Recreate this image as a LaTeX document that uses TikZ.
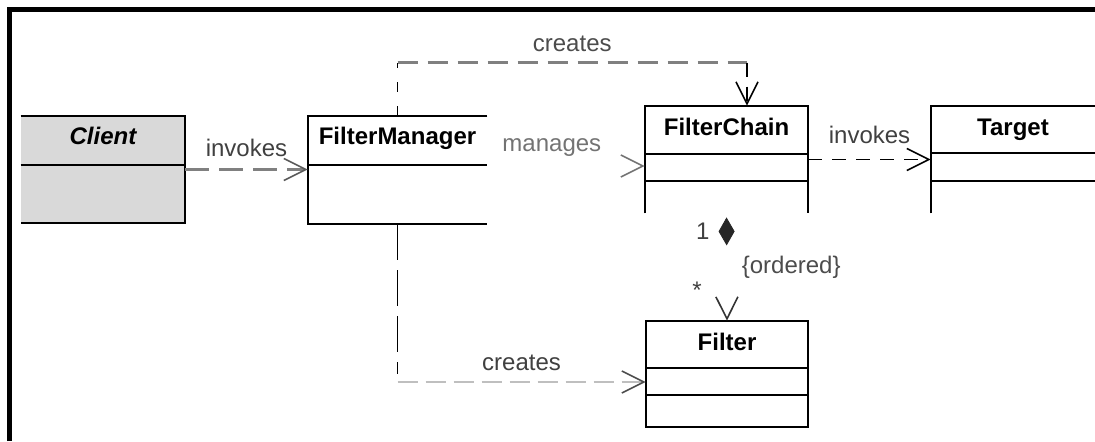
\documentclass[tikz,border=0pt]{standalone}
\usepackage{fontspec}
\setmainfont{Liberation Sans}
\usetikzlibrary{arrows.meta,positioning}

\begin{document}
\begin{tikzpicture}[x=0.5pt,y=-0.5pt,
                    every node/.style={font=\fontsize{12}{14}\selectfont},
                    umlclass/.style={rectangle,draw=none,inner sep=0pt},
                    classname/.style={anchor=base,font=\fontsize{12}{14}\selectfont\bfseries},
                    box/.style={line width=1pt},
                    lbl/.style={text=black!75},
                    dep/.style={line width=0.8pt,dash pattern=on 7pt off 5pt},
                    >={Straight Barb[length=11pt,width=11pt,line width=0.8pt]}]

\useasboundingbox (0,0) rectangle (1095,441);
\draw[line width=2.5pt] (9.5,441) -- (9.5,9.5) -- (1095,9.5);

% classes
\node[umlclass,minimum width=82pt,minimum height=53.5pt,fill=black!15] (client) at (103,169.5) {};
\node[umlclass,minimum width=89.5pt,minimum height=54pt] (fm) at (397.5,170) {};
\node[umlclass,minimum width=81.5pt,minimum height=53.5pt] (fc) at (726.5,159.5) {};
\node[umlclass,minimum width=82pt,minimum height=53.5pt] (target) at (1013,159.5) {};
\node[umlclass,minimum width=81pt,minimum height=53pt] (filter) at (727,374) {};

\node[classname,font=\fontsize{12}{14}\selectfont\bfseries\itshape] (clientname) at ([yshift=-14.25pt]client.north) {Client};
\node[classname] (fmname) at ([yshift=-14.5pt]fm.north) {FilterManager};
\node[classname] (fcname) at ([yshift=-14.75pt]fc.north) {FilterChain};
\node[classname] (targetname) at ([yshift=-14.75pt]target.north) {Target};
\node[classname] (filtername) at ([yshift=-15pt]filter.north) {Filter};

\draw[box] (client.north west) -- (client.north east) -- (client.south east) -- (client.south west);
\draw[box] ([yshift=-24.5pt]client.north west) -- ([yshift=-24.5pt]client.north east);

\draw[box] (fm.north east) -- (fm.north west) -- (fm.south west) -- (fm.south east);
\draw[box] ([yshift=-24.5pt]fm.north west) -- ([yshift=-24.5pt]fm.north east);

\draw[box] (fc.south west) -- (fc.north west) -- (fc.north east) -- (fc.south east);
\draw[box] ([yshift=-24pt]fc.north west) -- ([yshift=-24pt]fc.north east);
\draw[box] ([yshift=-37.5pt]fc.north west) -- ([yshift=-37.5pt]fc.north east);

\draw[box] (target.south west) -- (target.north west) -- (target.north east);
\draw[box] ([yshift=-23.5pt]target.north west) -- ([yshift=-23.5pt]target.north east);
\draw[box] ([yshift=-37.5pt]target.north west) -- ([yshift=-37.5pt]target.north east);

\draw[box] (filter.north west) rectangle (filter.south east);
\draw[box] ([yshift=-23.5pt]filter.north west) -- ([yshift=-23.5pt]filter.north east);
\draw[box] ([yshift=-37pt]filter.north west) -- ([yshift=-37pt]filter.north east);

% dependencies
\draw[dep,black!50,line width=1.5pt,dash pattern=on 12pt off 5pt,
      -{Straight Barb[length=11pt,width=11pt,line width=0.8pt,color=black!65]}]
     (client.east) -- (client.east -| fm.west) node[midway,above=2.5pt,lbl] {invokes};

\coordinate (mgrin) at ([yshift=-3.25pt]fc.west);
\draw[draw=white,-{Straight Barb[length=11pt,width=11pt,line width=0.8pt,color=black!55]}]
     (mgrin -| fm.east) -- (mgrin) node[pos=0.41,above=1pt,text=black!55] {manages};

\draw[dep,->] (fc.east) -- (target.west) node[midway,above=4pt,lbl] {invokes};

% creates (top)
\coordinate (fcin) at ([xshift=10.25pt]fc.north);
\coordinate (crtopl) at ([yshift=26.5pt]fm.north);
\coordinate (crtopr) at (crtopl -| fcin);
\draw[dep,dash pattern=on 5pt off 7pt] (fm.north) -- (crtopl);
\draw[black!50,line width=1.5pt,dash pattern=on 10pt off 5pt] (crtopl) -- (crtopr)
     node[midway,above=1.5pt,text=black!70] {creates};
\draw[dep,->] (crtopr) -- (fcin);

% creates (bottom)
\coordinate (fltin) at ([yshift=-4pt]filter.west);
\coordinate (crbot) at (fm.south |- fltin);
\draw[dep,dash pattern=on 18pt off 5pt] (fm.south) -- ([yshift=4pt]crbot);
\draw[black!25,line width=0.8pt,dash pattern=on 10pt off 4pt,
      -{Straight Barb[length=11pt,width=11pt,line width=0.8pt,color=black!70]}]
     (crbot) -- (fltin) node[midway,above=2pt,lbl] {creates};

% composition
\draw[draw=white,shorten <=2pt,
      {Diamond[length=14pt,width=8pt,color=black!85]}-{Straight Barb[length=11pt,width=11pt,line width=0.8pt,color=black!80]}]
     (fc.south) -- (filter.north)
     node[pos=0.17,left=5pt,lbl] {1}
     node[pos=0.5,right=4pt,text=black!70] {\{ordered\}}
     node[pos=0.72,left=9pt,lbl] {*};

\end{tikzpicture}
\end{document}
